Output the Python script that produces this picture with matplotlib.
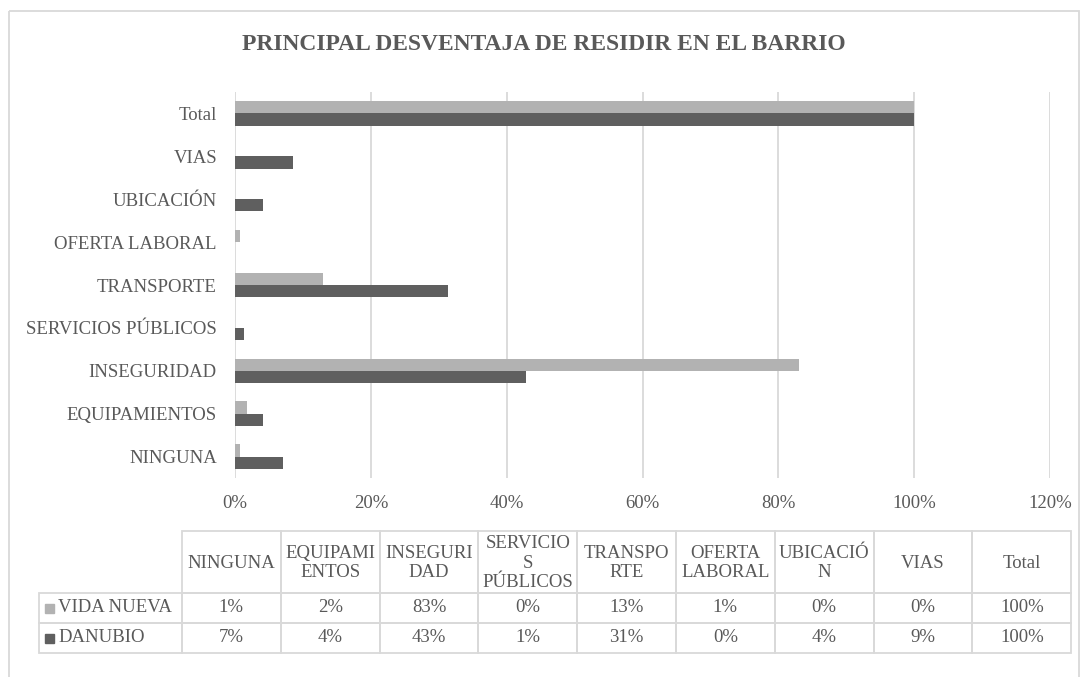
import matplotlib
matplotlib.use("Agg")
import matplotlib.pyplot as plt
from matplotlib.patches import Rectangle
import numpy as np

# categories in table order (bottom -> top on the chart)
categories = ["NINGUNA", "EQUIPAMIENTOS", "INSEGURIDAD", "SERVICIOS PÚBLICOS",
              "TRANSPORTE", "OFERTA LABORAL", "UBICACIÓN", "VIAS", "Total"]
header_labels = ["NINGUNA", "EQUIPAMI\nENTOS", "INSEGURI\nDAD", "SERVICIO\nS\nPÚBLICOS",
                 "TRANSPO\nRTE", "OFERTA\nLABORAL", "UBICACIÓ\nN", "VIAS", "Total"]
series_names = ["VIDA NUEVA", "DANUBIO"]
vida_nueva = [0.8, 1.8, 83.0, 0.0, 12.9, 0.8, 0.0, 0.0, 100.0]
danubio = [7.1, 4.1, 42.8, 1.3, 31.4, 0.0, 4.1, 8.6, 100.0]
x_ticks = [0, 20, 40, 60, 80, 100, 120]

c_light = "#B2B2B2"
c_dark = "#5F5F5F"
txt = "#595959"
grid_c = "#D9D9D9"
fs = 13.5

plt.rcParams['font.family'] = ['Liberation Serif', 'DejaVu Serif']

W, H = 1087, 677
fig = plt.figure(figsize=(W / 100, H / 100), dpi=100)

# overlay axes in pixel units for the frame and the data table
ov = fig.add_axes([0, 0, 1, 1])
ov.set_xlim(0, W)
ov.set_ylim(H, 0)
ov.axis("off")

# chart frame (bottom runs off the picture)
ov.add_patch(Rectangle((9, 11), 1079 - 9, H + 20, fill=False,
                       edgecolor=grid_c, linewidth=1.3))

ov.text(544, 45, "PRINCIPAL DESVENTAJA DE RESIDIR EN EL BARRIO",
        ha="center", va="center", fontsize=16.9, fontweight="bold", color=txt)

ax = fig.add_axes([235 / W, 1 - 478 / H, (1050 - 235) / W, (478 - 92) / H])
y = np.arange(len(categories))
h = 0.286
ax.barh(y + h / 2, vida_nueva, height=h, color=c_light, zorder=3)
ax.barh(y - h / 2, danubio, height=h, color=c_dark, zorder=3)
ax.set_xlim(0, 120)
ax.set_ylim(-0.5, len(categories) - 0.5)
ax.set_xticks(x_ticks)
ax.set_xticklabels([f"{t}%" for t in x_ticks])
ax.set_yticks(y)
ax.set_yticklabels(categories)
ax.grid(axis="x", color=grid_c, linewidth=1.3, zorder=0)
for s in ax.spines.values():
    s.set_visible(False)
ax.tick_params(axis="x", length=0, pad=12, labelsize=fs, labelcolor=txt)
ax.tick_params(axis="y", length=0, pad=13, labelsize=fs, labelcolor=txt)

# data table
lab_x0, col_x0, col_w = 39, 182, 98.8
head_y0, head_y1 = 531, 593
row_h = 30
series_vals = [vida_nueva, danubio]
series_cols = [c_light, c_dark]

for j, lab in enumerate(header_labels):
    x0 = col_x0 + j * col_w
    ov.add_patch(Rectangle((x0, head_y0), col_w, head_y1 - head_y0, fill=False,
                           edgecolor=grid_c, linewidth=1.3))
    ov.text(x0 + col_w / 2, (head_y0 + head_y1) / 2 + 1, lab, ha="center", va="center",
            fontsize=fs, color=txt, linespacing=1.2)

for i, (name, vals, col) in enumerate(zip(series_names, series_vals, series_cols)):
    ry = head_y1 + i * row_h
    yc = ry + row_h / 2
    ov.add_patch(Rectangle((lab_x0, ry), col_x0 - lab_x0, row_h, fill=False,
                           edgecolor=grid_c, linewidth=1.3))
    ov.add_patch(Rectangle((45, yc - 4.5), 9, 9, color=col))
    ov.text(58, yc, name, ha="left", va="center", fontsize=fs, color=txt)
    for j, v in enumerate(vals):
        x0 = col_x0 + j * col_w
        ov.add_patch(Rectangle((x0, ry), col_w, row_h, fill=False,
                               edgecolor=grid_c, linewidth=1.3))
        ov.text(x0 + col_w / 2, yc, f"{int(v + 0.5)}%", ha="center", va="center",
                fontsize=fs, color=txt)

fig.savefig("out.png", dpi=100, facecolor="white")
